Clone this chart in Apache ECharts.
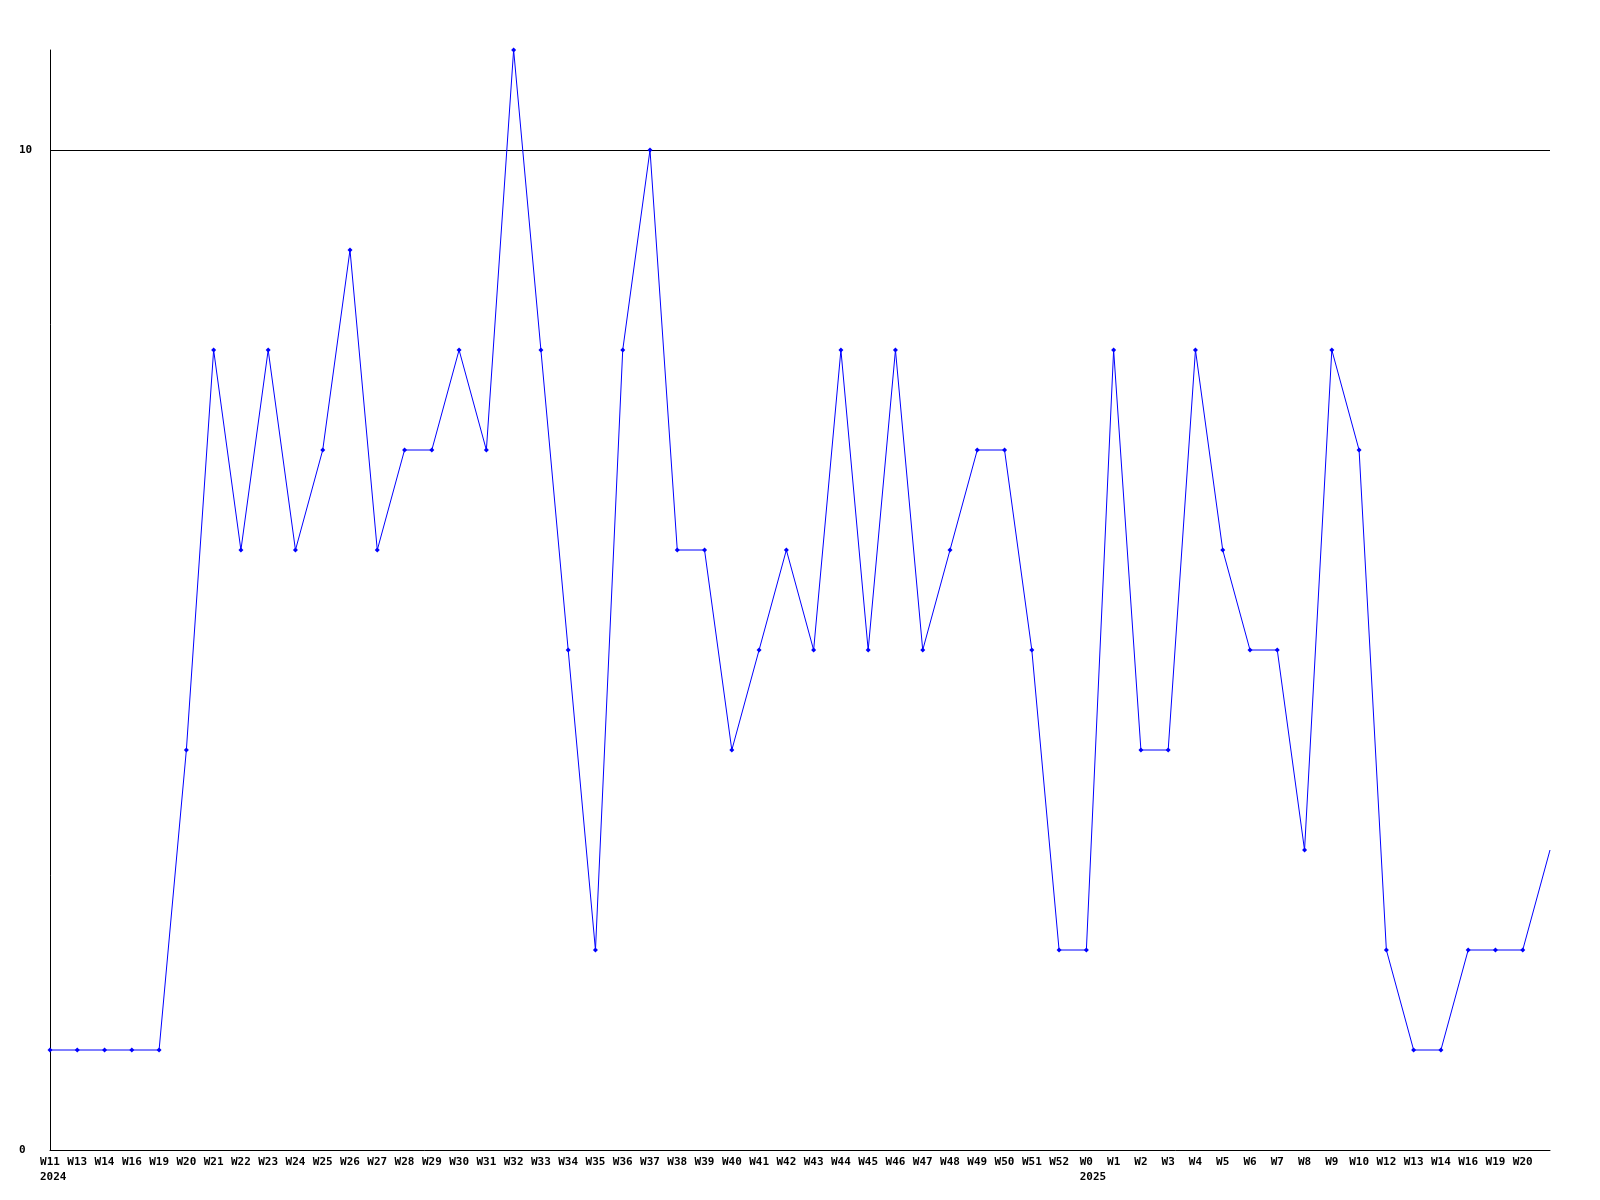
<!DOCTYPE html>
<html>
<head>
<meta charset="utf-8">
<style>
  html, body { margin: 0; padding: 0; background: #ffffff; }
  #chart { width: 1600px; height: 1200px; }
</style>
<script src="https://cdn.jsdelivr.net/npm/echarts@6/dist/echarts.min.js"></script>
</head>
<body>
<div id="chart"></div>
<script>
// Week categories (last one is an unlabeled continuation point at the plot edge)
const weeks = ['W11','W13','W14','W16','W19','W20','W21','W22','W23','W24','W25','W26','W27','W28','W29','W30','W31','W32','W33','W34','W35','W36','W37','W38','W39','W40','W41','W42','W43','W44','W45','W46','W47','W48','W49','W50','W51','W52',
               'W0','W1','W2','W3','W4','W5','W6','W7','W8','W9','W10','W12','W13','W14','W16','W19','W20',''];
// Year labels shown under the first week of each year
const years = {0: '2024', 38: '2025'};
// Series values
const values = [1,1,1,1,1,4,8,6,8,6,7,9,6,7,7,8,7,11,8,5,2,8,10,6,6,4,5,6,5,8,5,8,5,6,7,7,5,2,
                2,8,4,4,8,6,5,5,3,8,7,2,1,1,2,2,2,3];
// Y axis
const yMin = 0, yMax = 11, yInterval = 10;

const FONT = 'DejaVu Sans Mono';
const FSIZE = 11;

const cv = document.createElement('canvas').getContext('2d');
cv.font = 'bold ' + FSIZE + 'px "' + FONT + '"';
function tw(s) { return Math.round(cv.measureText(s).width); }

const rich = { w: { fontFamily: FONT, fontWeight: 'bold', fontSize: FSIZE, color: '#000', lineHeight: 15 } };
weeks.forEach((wk, i) => {
  if (years[i] !== undefined) {
    rich['y' + i] = { fontFamily: FONT, fontWeight: 'bold', fontSize: FSIZE, color: '#000', lineHeight: 15, width: tw(wk), align: 'left' };
  }
});

const chart = echarts.init(document.getElementById('chart'), null, { renderer: 'canvas' });
chart.setOption({
  animation: false,
  backgroundColor: '#ffffff',
  grid: { left: 50, right: 50, top: 50, bottom: 50, containLabel: false },
  xAxis: {
    type: 'category',
    data: weeks,
    boundaryGap: false,
    axisLine: { show: true, lineStyle: { color: '#000', width: 1 } },
    axisTick: { show: false },
    splitLine: { show: false },
    axisLabel: {
      interval: 0,
      margin: 5,
      fontFamily: FONT, fontWeight: 'bold', fontSize: FSIZE, color: '#000',
      formatter: function (v, i) {
        if (!v) return '';
        let s = '{w|' + v + '}';
        if (years[i] !== undefined) s += '\n{y' + i + '|' + years[i] + '}';
        return s;
      },
      rich: rich
    }
  },
  yAxis: {
    type: 'value',
    min: yMin, max: yMax, interval: yInterval,
    axisLine: { show: true, lineStyle: { color: '#000', width: 1 } },
    axisTick: { show: false },
    splitLine: { show: true, showMinLine: false, showMaxLine: false, lineStyle: { color: '#000', width: 1 } },
    axisLabel: {
      showMaxLabel: false,
      align: 'left',
      margin: 31,
      fontFamily: FONT, fontWeight: 'bold', fontSize: FSIZE, color: '#000'
    }
  },
  series: [{
    type: 'line',
    data: values.map((v, i) => (weeks[i] === '' ? { value: v, symbol: 'none' } : v)),
    symbol: 'diamond',
    symbolSize: 5,
    showAllSymbol: true,
    clip: true,
    lineStyle: { color: '#0000ff', width: 1 },
    itemStyle: { color: '#0000ff' }
  }]
});
</script>
</body>
</html>
